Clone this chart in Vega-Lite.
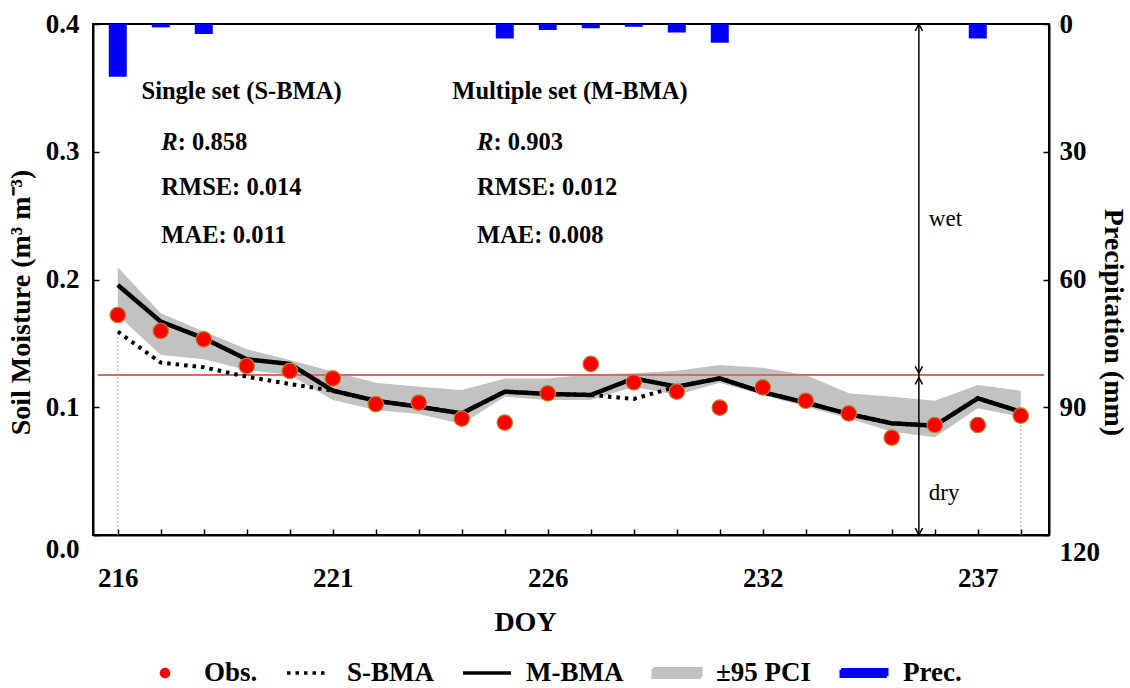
{
  "$schema": "https://vega.github.io/schema/vega-lite/v6.json",
  "width": 956,
  "height": 511,
  "autosize": "none",
  "padding": {"left": 93, "top": 24, "right": 81, "bottom": 153},
  "background": "white",
  "datasets": {
    "sm": [
      {"doy": 216, "obs": 0.1722, "sbma": 0.1592, "mbma": 0.1957, "lo": 0.172, "hi": 0.2095},
      {"doy": 217, "obs": 0.1597, "sbma": 0.1349, "mbma": 0.1670, "lo": 0.1409, "hi": 0.1735},
      {"doy": 218, "obs": 0.1532, "sbma": 0.1313, "mbma": 0.1540, "lo": 0.1375, "hi": 0.1592},
      {"doy": 219, "obs": 0.1323, "sbma": 0.1239, "mbma": 0.1375, "lo": 0.1292, "hi": 0.1454},
      {"doy": 220, "obs": 0.1284, "sbma": 0.1182, "mbma": 0.1339, "lo": 0.1252, "hi": 0.1370},
      {"doy": 221, "obs": 0.1226, "sbma": 0.1130, "mbma": 0.1130, "lo": 0.1057, "hi": 0.1279},
      {"doy": 222, "obs": 0.1025, "sbma": 0.1051, "mbma": 0.1051, "lo": 0.0978, "hi": 0.1192},
      {"doy": 223, "obs": 0.1036, "sbma": 0.1004, "mbma": 0.1004, "lo": 0.0947, "hi": 0.1161},
      {"doy": 224, "obs": 0.0911, "sbma": 0.0952, "mbma": 0.0952, "lo": 0.0869, "hi": 0.1135},
      {"doy": 225, "obs": 0.0880, "sbma": 0.1122, "mbma": 0.1122, "lo": 0.1083, "hi": 0.1226},
      {"doy": 226, "obs": 0.1109, "sbma": 0.1104, "mbma": 0.1104, "lo": 0.1057, "hi": 0.1226},
      {"doy": 227, "obs": 0.1339, "sbma": 0.1096, "mbma": 0.1096, "lo": 0.1057, "hi": 0.1258},
      {"doy": 228, "obs": 0.1195, "sbma": 0.1065, "mbma": 0.1226, "lo": 0.1161, "hi": 0.1266},
      {"doy": 229, "obs": 0.1122, "sbma": 0.1161, "mbma": 0.1161, "lo": 0.1096, "hi": 0.1286},
      {"doy": 230, "obs": 0.0997, "sbma": 0.1226, "mbma": 0.1226, "lo": 0.1192, "hi": 0.1331},
      {"doy": 231, "obs": 0.1156, "sbma": 0.1118, "mbma": 0.1118, "lo": 0.1096, "hi": 0.1309},
      {"doy": 232, "obs": 0.1051, "sbma": 0.1036, "mbma": 0.1036, "lo": 0.1004, "hi": 0.1252},
      {"doy": 233, "obs": 0.0952, "sbma": 0.0947, "mbma": 0.0947, "lo": 0.0913, "hi": 0.1109},
      {"doy": 234, "obs": 0.0762, "sbma": 0.0874, "mbma": 0.0874, "lo": 0.0809, "hi": 0.1083},
      {"doy": 235, "obs": 0.0861, "sbma": 0.0856, "mbma": 0.0856, "lo": 0.0765, "hi": 0.1051},
      {"doy": 236, "obs": 0.0861, "sbma": 0.1070, "mbma": 0.1070, "lo": 0.0992, "hi": 0.1174},
      {"doy": 237, "obs": 0.0934, "sbma": 0.0965, "mbma": 0.0965, "lo": 0.0926, "hi": 0.1130}
    ],
    "prec": [
      {"doy": 216, "p": 12.4},
      {"doy": 217, "p": 0.8},
      {"doy": 218, "p": 2.35},
      {"doy": 225, "p": 3.4},
      {"doy": 226, "p": 1.4},
      {"doy": 227, "p": 1.0},
      {"doy": 228, "p": 0.65},
      {"doy": 229, "p": 2.0},
      {"doy": 230, "p": 4.4},
      {"doy": 236, "p": 3.4}
    ],
    "drops": [
      {"doy": 216, "a": 0, "b": 0.1592},
      {"doy": 237, "a": 0, "b": 0.0934}
    ],
    "arrow": [
      {"doy": 234.63, "a": 0, "b": 0.4}
    ],
    "heads": [
      {"doy": 234.63, "sm": 0.4, "dir": "up"},
      {"doy": 234.63, "sm": 0.1267, "dir": "down"},
      {"doy": 234.63, "sm": 0.1233, "dir": "up"},
      {"doy": 234.63, "sm": 0.0, "dir": "down"}
    ],
    "ann": [
      {"doy": 216.552, "sm": 0.3411, "t": "Single set (S-BMA)"},
      {"doy": 217.013, "sm": 0.2661, "t": "RMSE: 0.014"},
      {"doy": 217.013, "sm": 0.2283, "t": "MAE: 0.011"},
      {"doy": 223.779, "sm": 0.3411, "t": "Multiple set (M-BMA)"},
      {"doy": 224.354, "sm": 0.2661, "t": "RMSE: 0.012"},
      {"doy": 224.354, "sm": 0.2283, "t": "MAE: 0.008"}
    ],
    "annr": [
      {"doy": 217.013, "sm": 0.3014, "t": ": 0.858"},
      {"doy": 224.354, "sm": 0.3014, "t": ": 0.903"}
    ],
    "wd": [
      {"doy": 234.63, "sm": 0.2419, "t": "wet"},
      {"doy": 234.63, "sm": 0.0274, "t": "dry"}
    ]
  },
  "config": {
    "font": "Liberation Serif",
    "view": {"stroke": "#000000", "strokeWidth": 2},
    "axis": {
      "grid": false,
      "domainColor": "#000000",
      "domainWidth": 2,
      "tickColor": "#000000",
      "tickWidth": 1.5,
      "tickSize": -6,
      "labelFont": "Liberation Serif",
      "labelFontSize": 27,
      "labelFontWeight": "bold",
      "labelColor": "#000000",
      "titleFont": "Liberation Serif",
      "titleFontSize": 28,
      "titleFontWeight": "bold",
      "titleColor": "#000000",
      "labelFlush": false,
      "labelOverlap": false,
      "labelBound": false
    },
    "legend": {
      "symbolStrokeWidth": 3.5,
      "symbolOpacity": 1
    }
  },
  "encoding": {
    "x": {
      "field": "doy",
      "type": "quantitative",
      "scale": {"domain": [215.54, 237.54], "nice": false, "zero": false},
      "axis": {
        "title": "DOY",
        "values": [216, 217, 218, 219, 220, 221, 222, 223, 224, 225, 226, 227, 228, 229, 230, 231, 232, 233, 234, 235, 236, 237],
        "labelExpr": "datum.value == 216 ? '216' : datum.value == 221 ? '221' : datum.value == 226 ? '226' : datum.value == 231 ? '232' : datum.value == 236 ? '237' : ''",
        "labelBaseline": "middle",
        "labelPadding": 49,
        "titleBaseline": "middle",
        "titleX": 432,
        "titleY": 87
      }
    }
  },
  "resolve": {"scale": {"y": "independent"}},
  "layer": [
    {
      "layer": [
        {
          "data": {"name": "sm"},
          "mark": {"type": "area", "opacity": 1},
          "encoding": {
            "y": {
              "field": "hi",
              "type": "quantitative",
              "scale": {"domain": [0, 0.4], "nice": false, "zero": true},
              "axis": {
                "orient": "left",
                "title": "Soil Moisture (m³ m⁻³)",
                "values": [0, 0.1, 0.2, 0.3, 0.4],
                "format": ".1f",
                "labelPadding": 20,
                "labelOffset": {"condition": {"test": "datum.value === 0", "value": 14}, "value": 0},
                "titleX": -72,
                "titleY": 278,
                "titleBaseline": "middle"
              }
            },
            "y2": {"field": "lo"},
            "color": {
              "datum": "±95 PCI",
              "scale": {
                "domain": ["Obs.", "S-BMA", "M-BMA", "±95 PCI", "Prec."],
                "range": ["#ff0000", "#000000", "#000000", "#c2c2c2", "#0000ff"]
              },
              "legend": {
                "orient": "none",
                "legendX": 45,
                "legendY": 622,
                "direction": "horizontal",
                "title": null,
                "padding": 0,
                "symbolSize": 2500,
                "symbolStrokeWidth": 3.5,
                "symbolOpacity": 1,
                "labelOffset": 12,
                "columnPadding": 22,
                "labelFont": "Liberation Serif",
                "labelFontSize": 27,
                "labelFontWeight": "bold",
                "labelColor": "#000000",
                "labelLimit": 300
              }
            }
          }
        },
        {
          "data": {"name": "sm"},
          "mark": {"type": "rule", "color": "#e06666", "strokeWidth": 1.2},
          "encoding": {
            "x": {"datum": 215.54, "type": "quantitative"},
            "x2": {"datum": 237.54},
            "y": {"datum": 0.125, "type": "quantitative"}
          }
        },
        {
          "data": {"name": "sm"},
          "mark": {"type": "line", "strokeWidth": 4},
          "encoding": {
            "y": {"field": "sbma", "type": "quantitative"},
            "color": {"datum": "S-BMA", "scale": {"domain": ["Obs.", "S-BMA", "M-BMA", "±95 PCI", "Prec."], "range": ["#ff0000", "#000000", "#000000", "#c2c2c2", "#0000ff"]}},
            "strokeDash": {"datum": "S-BMA", "scale": {"domain": ["Obs.", "S-BMA", "M-BMA", "±95 PCI", "Prec."], "range": [[1, 0], [3.5, 5], [1, 0], [1, 0], [1, 0]]}}
          }
        },
        {
          "data": {"name": "sm"},
          "mark": {"type": "line", "strokeWidth": 4.5},
          "encoding": {
            "y": {"field": "mbma", "type": "quantitative"},
            "color": {"datum": "M-BMA", "scale": {"domain": ["Obs.", "S-BMA", "M-BMA", "±95 PCI", "Prec."], "range": ["#ff0000", "#000000", "#000000", "#c2c2c2", "#0000ff"]}},
            "strokeDash": {"datum": "M-BMA", "scale": {"domain": ["Obs.", "S-BMA", "M-BMA", "±95 PCI", "Prec."], "range": [[1, 0], [3.5, 5], [1, 0], [1, 0], [1, 0]]}}
          }
        },
        {
          "data": {"name": "drops"},
          "mark": {"type": "rule", "color": "#aaaaaa", "strokeWidth": 1, "strokeDash": [2, 2]},
          "encoding": {
            "y": {"field": "a", "type": "quantitative"},
            "y2": {"field": "b"}
          }
        },
        {
          "data": {"name": "sm"},
          "mark": {"type": "point", "filled": true, "size": 12250, "opacity": 1, "stroke": "#b8862a", "strokeWidth": 1.2},
          "encoding": {
            "y": {"field": "obs", "type": "quantitative"},
            "color": {"datum": "Obs.", "scale": {"domain": ["Obs.", "S-BMA", "M-BMA", "±95 PCI", "Prec."], "range": ["#ff0000", "#000000", "#000000", "#c2c2c2", "#0000ff"]}},
            "shape": {"datum": "Obs.", "scale": {"domain": ["Obs.", "S-BMA", "M-BMA", "±95 PCI", "Prec."], "range": ["M-0.14,0A0.14,0.14,0,1,1,0.14,0A0.14,0.14,0,1,1,-0.14,0Z", "M-0.84,0L0.84,0", "M-0.96,0L0.96,0", "M-0.95,-0.17L0.95,-0.17L0.95,0.17L-0.95,0.17Z", "M-0.91,-0.13L0.91,-0.13L0.91,0.13L-0.91,0.13Z"]}}
          }
        },
        {
          "data": {"name": "arrow"},
          "mark": {"type": "rule", "color": "#000000", "strokeWidth": 1.5},
          "encoding": {
            "y": {"field": "a", "type": "quantitative"},
            "y2": {"field": "b"}
          }
        },
        {
          "data": {"name": "heads"},
          "transform": [{"filter": "datum.dir === 'up'"}],
          "mark": {"type": "point", "shape": "M-0.9,1.7L0,0L0.9,1.7", "filled": false, "color": "#000000", "strokeWidth": 1.5, "size": 64, "opacity": 1},
          "encoding": {
            "y": {"field": "sm", "type": "quantitative"}
          }
        },
        {
          "data": {"name": "heads"},
          "transform": [{"filter": "datum.dir === 'down'"}],
          "mark": {"type": "point", "shape": "M-0.9,-1.7L0,0L0.9,-1.7", "filled": false, "color": "#000000", "strokeWidth": 1.5, "size": 64, "opacity": 1},
          "encoding": {
            "y": {"field": "sm", "type": "quantitative"}
          }
        },
        {
          "data": {"name": "ann"},
          "mark": {"type": "text", "align": "left", "baseline": "alphabetic", "font": "Liberation Serif", "fontSize": 24.5, "fontWeight": "bold", "color": "#000000"},
          "encoding": {
            "y": {"field": "sm", "type": "quantitative"},
            "text": {"field": "t"}
          }
        },
        {
          "data": {"name": "annr"},
          "mark": {"type": "text", "align": "left", "baseline": "alphabetic", "font": "Liberation Serif", "fontSize": 24.5, "fontWeight": "bold", "fontStyle": "italic", "color": "#000000"},
          "encoding": {
            "y": {"field": "sm", "type": "quantitative"},
            "text": {"value": "R"}
          }
        },
        {
          "data": {"name": "annr"},
          "mark": {"type": "text", "align": "left", "baseline": "alphabetic", "dx": 16.5, "font": "Liberation Serif", "fontSize": 24.5, "fontWeight": "bold", "color": "#000000"},
          "encoding": {
            "y": {"field": "sm", "type": "quantitative"},
            "text": {"field": "t"}
          }
        },
        {
          "data": {"name": "wd"},
          "mark": {"type": "text", "align": "left", "baseline": "alphabetic", "dx": 10, "font": "Liberation Serif", "fontSize": 23, "fontWeight": "normal", "color": "#000000"},
          "encoding": {
            "y": {"field": "sm", "type": "quantitative"},
            "text": {"field": "t"}
          }
        }
      ]
    },
    {
      "data": {"name": "prec"},
      "mark": {"type": "bar", "width": 18, "opacity": 1},
      "encoding": {
        "y": {
          "field": "p",
          "type": "quantitative",
          "scale": {"domain": [0, 120], "reverse": true, "nice": false},
          "axis": {
            "orient": "right",
            "title": "Precipitation (mm)",
            "values": [0, 30, 60, 90, 120],
            "labelPadding": 16,
            "labelOffset": {"condition": {"test": "datum.value === 120", "value": 17}, "value": 0},
            "titleX": 63,
            "titleY": 298,
            "titleBaseline": "middle"
          }
        },
        "color": {"datum": "Prec.", "scale": {"domain": ["Obs.", "S-BMA", "M-BMA", "±95 PCI", "Prec."], "range": ["#ff0000", "#000000", "#000000", "#c2c2c2", "#0000ff"]}}
      }
    }
  ]
}
